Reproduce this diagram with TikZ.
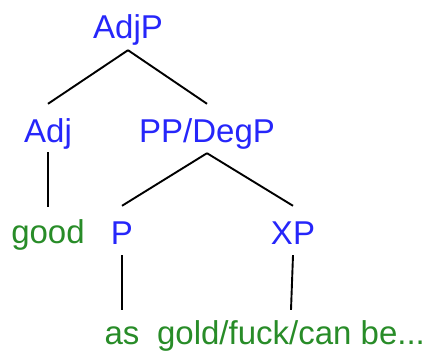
\documentclass[tikz,border=0pt]{standalone}
\usepackage{fontspec}
\setmainfont{Liberation Sans}
\usepackage{tikz}
\definecolor{treeblue}{RGB}{38,38,250}
\definecolor{treegreen}{RGB}{40,140,40}

\begin{document}
\begin{tikzpicture}[x=1pt,y=-1pt,
    cat/.style={treeblue,font=\fontsize{33}{38}\selectfont,inner sep=0pt,
      text height=24pt,text depth=0pt,anchor=base},
    word/.style={cat,treegreen},
    branch/.style={line width=1.9pt}]
  \useasboundingbox (0,0) rectangle (425,352);
  \node[cat] (adjp) at (128,39) {AdjP};
  \node[cat] (adj) at (48,143) {Adj};
  \node[cat] (ppdeg) at (207,143) {PP/DegP};
  \node[word] (good) at (48,244) {good};
  \node[cat] (p) at (122,245) {P};
  \node[cat] (xp) at (293,245) {XP};
  \node[word] (as) at (122,344) {as};
  \node[word] (gold) at (291,344) {gold/fuck/can be...};
  % branches leave a gap below the mother and above the daughter
  \draw[branch] ([yshift=-11pt]adjp.south) -- ([yshift=15pt]adj.north);
  \draw[branch] ([yshift=-11pt]adjp.south) -- ([yshift=15pt]ppdeg.north);
  \draw[branch] ([yshift=-9pt]adj.south) -- ([yshift=13pt]good.north);
  \draw[branch] ([yshift=-10pt]ppdeg.south) -- ([yshift=15pt]p.north);
  \draw[branch] ([yshift=-10pt]ppdeg.south) -- ([yshift=15pt]xp.north);
  \draw[branch] ([yshift=-10pt]p.south) -- ([yshift=10pt]as.north);
  \draw[branch] ([yshift=-10pt]xp.south) -- ([yshift=10pt]gold.north);
\end{tikzpicture}
\end{document}
